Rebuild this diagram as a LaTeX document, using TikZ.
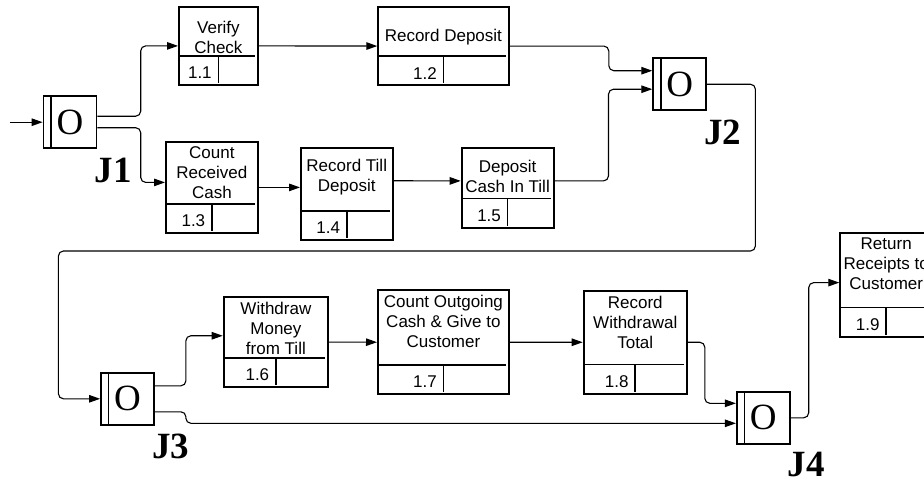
\documentclass[tikz,border=0pt]{standalone}
\usepackage{fontspec}
\setmainfont{Liberation Sans}
\newfontfamily\jnfont{Liberation Serif}
\usetikzlibrary{arrows.meta,calc}

\begin{document}
\begin{tikzpicture}[
    x=1pt, y=-1pt,
    uow/.style={draw,line width=1.8pt,inner sep=0pt,anchor=north west,
        path picture={
            \draw[line width=1.6pt]
                ([yshift=29pt]path picture bounding box.south west) -- ([xshift=-3pt,yshift=29pt]path picture bounding box.south east)
                ([yshift=29pt]path picture bounding box.south) -- ([yshift=2pt]path picture bounding box.south);
        }},
    uowtext/.style={align=center,inner sep=0pt,font=\fontsize{17}{20}\selectfont},
    numlabel/.style={anchor=east,inner sep=0pt,font=\fontsize{17}{20}\selectfont},
    junction/.style={draw,line width=1.8pt,inner sep=0pt,minimum width=53pt,minimum height=52pt,
        font=\jnfont\fontsize{37}{37}\selectfont,
        path picture={
            \draw[line width=1.6pt] ([xshift=7.5pt]path picture bounding box.north west) -- ([xshift=7.5pt]path picture bounding box.south west);
        }},
    jlabel/.style={inner sep=0pt,font=\jnfont\bfseries\fontsize{37}{37}\selectfont},
    flow/.style={-{Triangle[length=11pt,width=7.5pt]},line width=1.1pt,rounded corners=5pt}
]
    \useasboundingbox (0,0) rectangle (924,483);
    \clip (0,0) rectangle (924,483);

    % junctions
    \node[junction] (j1) at (70,122.2) {O};
    \node[junction] (j2) at (679.7,84.2) {O};
    \node[junction] (j3) at (127.5,398.8) {O};
    \node[junction] (j4) at (763.3,417.8) {O};

    \node[jlabel] (j1lab) at ([shift={(43,48)}]j1.center) {J1};
    \node[jlabel] (j2lab) at ([shift={(43,48)}]j2.center) {J2};
    \node[jlabel] (j3lab) at ([shift={(43,48)}]j3.center) {J3};
    \node[jlabel] (j4lab) at ([shift={(43,47)}]j4.center) {J4};

    % units of work
    \node[uow,minimum width=79pt,minimum height=78pt] (p11) at (178,6) {};
    \node[uowtext] (t11) at ([yshift=-31pt]p11.north) {Verify\\Check};
    \node[numlabel] (n11) at ([xshift=-6.5pt,yshift=13pt]p11.south) {1.1};
    \node[uow,minimum width=130.4pt,minimum height=78.3pt] (p12) at (377.3,6) {};
    \node[uowtext] (t12) at ([yshift=-31pt]p12.north) {Record Deposit};
    \node[numlabel] (n12) at ([xshift=-6.5pt,yshift=13pt]p12.south) {1.2};
    \node[uow,minimum width=92pt,minimum height=91pt] (p13) at (165,141) {};
    \node[uowtext] (t13) at ([yshift=-32pt]p13.north) {Count\\Received\\Cash};
    \node[numlabel] (n13) at ([xshift=-6.5pt,yshift=13pt]p13.south) {1.3};
    \node[uow,minimum width=91.7pt,minimum height=92.3pt] (p14) at (300,146.7) {};
    \node[uowtext] (t14) at ([yshift=-30pt]p14.north) {Record Till\\Deposit};
    \node[numlabel] (n14) at ([xshift=-6.5pt,yshift=13pt]p14.south) {1.4};
    \node[uow,minimum width=92pt,minimum height=80pt] (p15) at (460.7,146.7) {};
    \node[uowtext] (t15) at ([yshift=-30pt]p15.north) {Deposit\\Cash In Till};
    \node[numlabel] (n15) at ([xshift=-6.5pt,yshift=13pt]p15.south) {1.5};
    \node[uow,minimum width=104.6pt,minimum height=90.3pt] (p16) at (222.7,296) {};
    \node[uowtext] (t16) at ([yshift=-32pt]p16.north) {Withdraw\\Money\\from Till};
    \node[numlabel] (n16) at ([xshift=-6.5pt,yshift=13pt]p16.south) {1.6};
    \node[uow,minimum width=131pt,minimum height=104pt] (p17) at (377,289.3) {};
    \node[uowtext] (t17) at ([yshift=-32pt]p17.north) {Count Outgoing\\Cash \& Give to\\Customer};
    \node[numlabel] (n17) at ([xshift=-6.5pt,yshift=13pt]p17.south) {1.7};
    \node[uow,minimum width=103.3pt,minimum height=102.7pt] (p18) at (582.7,290) {};
    \node[uowtext] (t18) at ([yshift=-32pt]p18.north) {Record\\Withdrawal\\Total};
    \node[numlabel] (n18) at ([xshift=-6.5pt,yshift=13pt]p18.south) {1.8};
    \node[uow,minimum width=92pt,minimum height=104pt] (p19) at (839.3,231.7) {};
    \node[uowtext] (t19) at ([yshift=-32pt]p19.north) {Return\\Receipts to\\Customer};
    \node[numlabel] (n19) at ([xshift=-6.5pt,yshift=13pt]p19.south) {1.9};

    \coordinate (start) at (10,122.2);

    % flows
    \draw[flow] (start) -- (j1.west);
    \draw[flow] ([yshift=6pt]j1.east) -- ++(43.3,0) |- (p11.west);
    \draw[flow] ([yshift=-5.5pt]j1.east) -- ++(43.3,0) |- ([yshift=5pt]p13.west);
    \draw[flow] (p11.east) -- (p12.west);
    \draw[flow] (p13.east) -- (p13.east -| p14.west);
    \draw[flow] ([yshift=13pt]p14.east) -- ([yshift=6.7pt]p15.west);
    \draw[flow] (p12.east) -- ++(99.3,0) |- ([yshift=13.5pt]j2.west);
    \draw[flow] ([yshift=6.7pt]p15.east) -- ++(54,0) |- ([yshift=-5pt]j2.west);
    \draw[flow] (j2.east) -- ++(48.3,0) -- ++(0,166.8) -- ++(-697,0) |- (j3.west);
    \draw[flow] ([yshift=13pt]j3.east) -- ++(31,0) |- ([yshift=6.3pt]p16.west);
    \draw[flow] ([yshift=-13pt]j3.east) -- ++(31,0) |- ([yshift=-5.5pt]j4.west);
    \draw[flow] (p16.east) -- (p17.west);
    \draw[flow] (p17.east) -- (p18.west);
    \draw[flow] (p18.east) -- ++(17,0) |- ([yshift=14.5pt]j4.west);
    \draw[flow] (j4.east) -- ++(18,0) |- ([yshift=2pt]p19.west);
\end{tikzpicture}
\end{document}
